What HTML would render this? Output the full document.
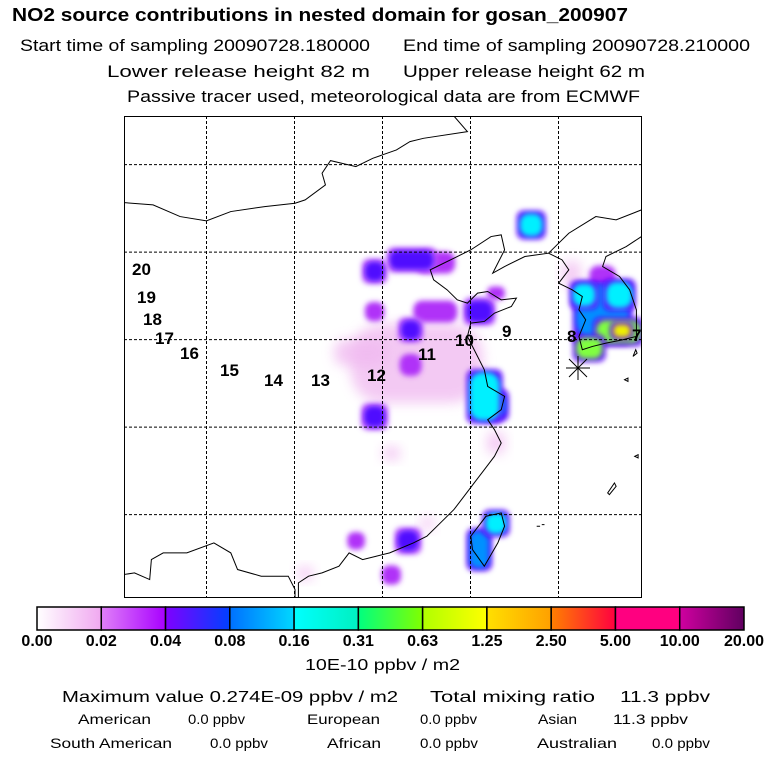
<!DOCTYPE html>
<html><head><meta charset="utf-8"><style>
html,body{margin:0;padding:0;background:#fff}
svg{display:block;font-family:"Liberation Sans",sans-serif}
</style></head><body>
<svg id="chart" width="768" height="768" viewBox="0 0 768 768">
<defs>
<filter id="bl" x="-50%" y="-50%" width="200%" height="200%"><feGaussianBlur stdDeviation="2.6"/></filter>
<filter id="bl2" x="-50%" y="-50%" width="200%" height="200%"><feGaussianBlur stdDeviation="6"/></filter>
<clipPath id="mapclip"><rect x="124" y="116" width="518" height="482"/></clipPath>
</defs>
<g>
<text x="12" y="21" font-size="18" font-weight="bold" textLength="616" lengthAdjust="spacingAndGlyphs">NO2 source contributions in nested domain for gosan_200907</text>
<text x="20" y="51" font-size="17" textLength="350" lengthAdjust="spacingAndGlyphs">Start time of sampling 20090728.180000</text>
<text x="403" y="51" font-size="17" textLength="347" lengthAdjust="spacingAndGlyphs">End time of sampling 20090728.210000</text>
<text x="107" y="77" font-size="17" textLength="263" lengthAdjust="spacingAndGlyphs">Lower release height   82 m</text>
<text x="403" y="77" font-size="17" textLength="242" lengthAdjust="spacingAndGlyphs">Upper release height   62 m</text>
<text x="127" y="102" font-size="17" textLength="513" lengthAdjust="spacingAndGlyphs">Passive tracer used, meteorological data are from ECMWF</text>
</g>
<g id="map" clip-path="url(#mapclip)">
<g id="blobs"></g>
<g transform="translate(119.27,110.0) scale(0.338,0.333)" fill="none" stroke="#000" stroke-width="1">
<path vector-effect="non-scaling-stroke" d="M14,278 L100,285 180,320 258,333 330,305 430,290 520,280 550,270 610,225 600,190 625,152 700,170 750,145 820,120 860,95 900,85 1030,65 990,18"/>
<path vector-effect="non-scaling-stroke" d="M1270,430 L1200,440 1140,470 1105,490 1140,420 1130,375 1100,380 1040,420 1000,440 940,470 920,480 930,510 970,540 1000,570 1030,580 1060,550 1090,545 1130,570 1175,565 1160,590 1110,610 1080,635 1040,640 1030,680 1050,720 1080,780 1090,830 1140,860 1130,900 1090,930 1110,960 1130,1000 1110,1040 1080,1080 1050,1120 1020,1160 990,1200 950,1240 910,1280 870,1300 800,1330 760,1340 720,1350 680,1330 650,1370 600,1390 560,1400 530,1420 530,1465"/>
<path vector-effect="non-scaling-stroke" d="M14,1395 L45,1390 90,1410 95,1350 130,1330 200,1330 280,1300 330,1330 350,1380 420,1400 500,1400 520,1440 520,1465"/>
<path vector-effect="non-scaling-stroke" d="M1270,430 L1300,400 1330,370 1410,320 1470,330 1545,300"/>
<path vector-effect="non-scaling-stroke" d="M1545,380 L1500,410 1440,440 1430,470 1480,500 1510,540 1530,600 1530,680 1490,690 1440,700 1400,710 1370,720 1360,680 1380,630 1360,600 1370,560 1340,540 1300,520 1330,480 1310,450 1270,430"/>
<path vector-effect="non-scaling-stroke" d="M1085,1220 L1130,1210 1140,1250 1120,1300 1080,1370 1045,1320 1040,1280 Z"/>
<path vector-effect="non-scaling-stroke" d="M1445,1150 L1465,1120 1470,1130 1450,1155 Z M1520,740 l8,-20 4,10 Z M1495,810 l10,-5 0,10 Z M1525,1040 l10,-5 0,10 Z M1235,1250 l10,0 M1250,1245 l8,0"/>
</g>
<g id="grid" stroke="#000" stroke-width="1" stroke-dasharray="3,2"></g>
<g font-size="17" font-weight="bold" fill="#000">
<text x="132" y="275">20</text><text x="137" y="303">19</text><text x="143" y="325">18</text><text x="155" y="344">17</text><text x="180" y="359">16</text><text x="220" y="376">15</text><text x="264" y="386">14</text><text x="311" y="386">13</text><text x="367" y="381">12</text><text x="418" y="360">11</text><text x="455" y="346">10</text><text x="502" y="337">9</text><text x="567" y="342">8</text><text x="632" y="341">7</text>
</g>
<g stroke="#000" stroke-width="1">
<line x1="566" y1="368" x2="590" y2="368"/><line x1="578" y1="356" x2="578" y2="380"/><line x1="569" y1="359" x2="587" y2="377"/><line x1="587" y1="359" x2="569" y2="377"/>
</g>
</g>
<rect x="124.5" y="116.5" width="517" height="481" fill="none" stroke="#000" stroke-width="1"/>
<g id="cbar"></g>
<text x="305" y="670" font-size="16" textLength="155" lengthAdjust="spacingAndGlyphs">10E-10 ppbv / m2</text>
<g font-size="16">
<text x="62" y="702" textLength="336" lengthAdjust="spacingAndGlyphs">Maximum value  0.274E-09 ppbv / m2</text>
<text x="430" y="702" textLength="165" lengthAdjust="spacingAndGlyphs">Total mixing ratio</text>
<text x="620" y="702" textLength="90" lengthAdjust="spacingAndGlyphs">11.3 ppbv</text>
</g>
<g font-size="14">
<text x="78" y="724" textLength="73" lengthAdjust="spacingAndGlyphs">American</text>
<text x="188" y="724" textLength="57" lengthAdjust="spacingAndGlyphs">0.0 ppbv</text>
<text x="307" y="724" textLength="73" lengthAdjust="spacingAndGlyphs">European</text>
<text x="420" y="724" textLength="57" lengthAdjust="spacingAndGlyphs">0.0 ppbv</text>
<text x="538" y="724" textLength="39" lengthAdjust="spacingAndGlyphs">Asian</text>
<text x="613" y="724" textLength="75" lengthAdjust="spacingAndGlyphs">11.3 ppbv</text>
<text x="50" y="748" textLength="122" lengthAdjust="spacingAndGlyphs">South American</text>
<text x="210" y="748" textLength="58" lengthAdjust="spacingAndGlyphs">0.0 ppbv</text>
<text x="327" y="748" textLength="54" lengthAdjust="spacingAndGlyphs">African</text>
<text x="420" y="748" textLength="58" lengthAdjust="spacingAndGlyphs">0.0 ppbv</text>
<text x="537" y="748" textLength="80" lengthAdjust="spacingAndGlyphs">Australian</text>
<text x="652" y="748" textLength="58" lengthAdjust="spacingAndGlyphs">0.0 ppbv</text>
</g>
</svg>
<script>
const cbLabels = ["0.00","0.02","0.04","0.08","0.16","0.31","0.63","1.25","2.50","5.00","10.00","20.00"];
const cbStart = ["#ffffff","#e080f8","#8000ff","#0070ff","#00ffff","#00ff80","#b0ff00","#ffe000","#ff8000","#ff0080","#d000a0"];
const cbEnd = ["#f0a8f0","#a800ff","#0040ff","#00d8ff","#00f0c0","#80ff00","#ffff00","#ffa000","#ff0040","#ff0080","#600060"];
const gridLons = [100,110,120,130,140];
const gridLats = [50,40,30,20,10];
// blobs: lon, lat, width(deg), height(deg), level
const blobLon = [123.9,117.5,123.3,126.0,119.1,119.1,126.0,123.2,131.0,132.9,123.2,119.1,131.6,132.5,132.9,121.0,132.9,131.0,122.9,117.0,125.1,121.0,111.2,145.0,141.5,145.0,142.9,146.9,146.8,143.5,147.2,136.9];
const blobLat = [27.3,28.5,39.1,38.8,37.8,33.2,33.2,31.1,33.2,35.3,27.1,21.2,23.5,22.5,18.2,17.0,9.0,6.0,7.0,7.0,9.0,3.1,3.3,37.2,37.5,33.0,35.1,35.1,30.9,29.0,31.0,43.1];
const blobW = [15,6,5,4.5,2.2,2.2,5,2.2,3,2,2.5,2.4,3.4,3,2,2,2.4,2.2,2.4,2,1.5,2.2,1.8,3,2,6,2.6,3,5,3,2,2.6];
const blobH = [9,3,2.2,2.5,2.2,2.2,2.5,2.2,2.5,1.5,2.5,2.4,5.5,3,2.5,1.5,2.4,4.2,2.4,2,1.5,2.2,1.5,2.5,3,6.5,2.6,3,2.6,2.4,1.5,2.6];
const blobLevel = [0,0,2,1,2,1,1,2,2,1,1,2,4,3,0,0,4,3,2,1,0,1,0,1,0,3,4,4,5,5,6,4];
const levelColors = ["#f0b8f0","#b030f8","#5010ff","#0090ff","#00f0ff","#80ff40","#f0f000","#ffa000"];

const svg = document.getElementById('chart');
const NS = "http://www.w3.org/2000/svg";
const x = lon => 206.5 + (lon - 100) * 8.8;
const y = lat => 164.6 + (50 - lat) * 8.75;

const grid = document.getElementById('grid');
gridLons.forEach(lon => {
  const l = document.createElementNS(NS,'line');
  l.setAttribute('x1', x(lon)); l.setAttribute('x2', x(lon)); l.setAttribute('y1',116); l.setAttribute('y2',598);
  
  
  grid.appendChild(l);
});
gridLats.forEach(lat => {
  const l = document.createElementNS(NS,'line');
  l.setAttribute('y1', y(lat)); l.setAttribute('y2', y(lat)); l.setAttribute('x1',124); l.setAttribute('x2',642);
  
  
  grid.appendChild(l);
});

const blobs = document.getElementById('blobs');
const order = blobLevel.map((v,i)=>i).sort((a,b)=>blobLevel[a]-blobLevel[b]);
order.forEach(i => {
  const lvl = blobLevel[i];
  const w = blobW[i]*8.8, h = blobH[i]*8.75;
  const cx = x(blobLon[i]), cy = y(blobLat[i]);
  if (lvl >= 2) {
    const halo = document.createElementNS(NS,'rect');
    halo.setAttribute('x', cx - w/2 - 3); halo.setAttribute('y', cy - h/2 - 3);
    halo.setAttribute('width', w + 6); halo.setAttribute('height', h + 6);
    halo.setAttribute('rx', 7); halo.setAttribute('fill', lvl >= 3 ? '#6010ff' : '#c060ff');
    halo.setAttribute('filter','url(#bl)');
    
    
    blobs.appendChild(halo);
  }
  const r = document.createElementNS(NS,'rect');
  r.setAttribute('x', cx - w/2); r.setAttribute('y', cy - h/2);
  r.setAttribute('width', w); r.setAttribute('height', h);
  r.setAttribute('rx', Math.min(w,h)*0.4);
  r.setAttribute('fill', levelColors[lvl]);
  r.setAttribute('opacity', lvl === 0 ? 0.75 : 1);
  r.setAttribute('filter', lvl === 0 ? 'url(#bl2)' : 'url(#bl)');
  
  
  blobs.appendChild(r);
});

const cb = document.getElementById('cbar');
const cbX0 = 37, cbX1 = 744, cbY = 607, cbH = 23;
const segW = (cbX1 - cbX0) / cbStart.length;
const defs = svg.querySelector('defs');
cbStart.forEach((c,i) => {
  const g = document.createElementNS(NS,'linearGradient');
  g.setAttribute('id','cg'+i);
  const s1 = document.createElementNS(NS,'stop'); s1.setAttribute('offset','0'); s1.setAttribute('stop-color', c);
  const s2 = document.createElementNS(NS,'stop'); s2.setAttribute('offset','1'); s2.setAttribute('stop-color', cbEnd[i]);
  g.appendChild(s1); g.appendChild(s2); defs.appendChild(g);
  const r = document.createElementNS(NS,'rect');
  r.setAttribute('x', cbX0 + i*segW); r.setAttribute('y', cbY); r.setAttribute('width', segW); r.setAttribute('height', cbH);
  r.setAttribute('fill','url(#cg'+i+')'); r.setAttribute('stroke','#000'); r.setAttribute('stroke-width','1.5');
  
  
  cb.appendChild(r);
});
cbLabels.forEach((t,i) => {
  const tx = document.createElementNS(NS,'text');
  tx.setAttribute('x', cbX0 + i*segW); tx.setAttribute('y', 646);
  tx.setAttribute('text-anchor','middle'); tx.setAttribute('font-size','16'); tx.setAttribute('font-weight','bold');
  tx.textContent = t;
  
  
  cb.appendChild(tx);
});
</script>
</body></html>
